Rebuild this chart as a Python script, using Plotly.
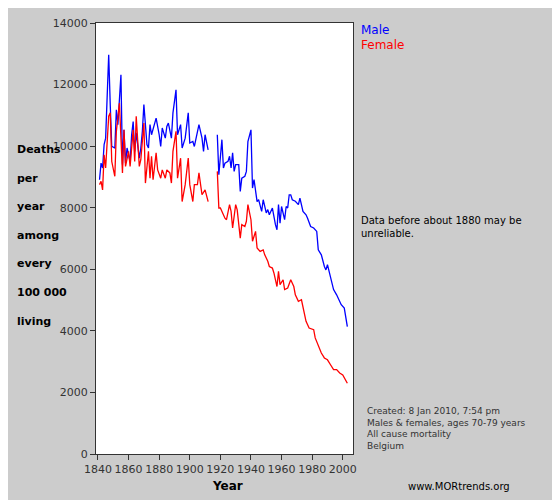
import plotly.graph_objects as go

male_years = [1841,1842,1843,1844,1845,1847,1848,1849,1851,1852,1853,1855,1856,1857,1858,1859,1861,1862,1863,1864,1865,1867,1868,1869,1870,1872,1873,1874,1875,1877,1878,1880,1881,1882,1884,1885,1886,1888,1889,1891,1892,1894,1895,1897,1899,1900,1902,1903,1905,1906,1908,1909,1910,1912,
              1913,
              1918,1919,1921,1922,1923,1925,1926,1927,1928,1929,1930,1932,1933,1934,1936,1937,1938,1940,1941,1942,1944,1945,1947,1948,1950,1951,1952,1954,1956,1957,1958,1959,1960,1962,1963,1964,1965,1966,1967,1969,1971,1972,1974,1976,1977,1979,1981,1983,1984,1986,1988,1989,1990,1992,1994,1996,1997,1999,2001,2003]
male_vals = [8910,9450,9290,10050,10260,12970,11350,9990,9940,11180,10700,12320,9400,10530,9450,9940,9500,10370,10800,9830,10430,9610,9940,10480,11350,10050,9940,10700,10370,10700,10910,10370,9990,10590,10260,10640,10750,10260,11080,11830,10370,10700,9940,10260,11080,10100,10150,9990,10480,10700,10260,9830,10370,9880,
             None,
             10370,9070,10210,9290,9450,9510,9670,9290,9780,9180,9400,9400,8530,8960,9020,9180,10150,10530,8640,8910,8200,8260,7880,8260,7830,7940,7770,7990,7450,7285,8100,7500,8040,7610,8040,7990,8420,8420,8260,8210,8100,8310,7880,7770,7660,7390,7340,7230,6630,6470,6090,5980,6150,5710,5340,5170,5060,4850,4740,4140]

female_years = [1841,1842,1843,1844,1845,1847,1848,1849,1851,1852,1854,1856,1857,1858,1860,1861,1863,1864,1865,1867,1868,1870,1871,1873,1874,1875,1876,1878,1879,1881,1882,1884,1885,1887,1888,1889,1891,1892,1894,1895,1897,1899,1900,1902,1903,1905,1906,1908,1910,1912,
                1913,
                1918,1919,1920,1921,1923,1924,1926,1927,1928,1930,1931,1933,1934,1936,1937,1938,1940,1941,1943,1944,1946,1948,1949,1951,1952,1954,1955,1957,1958,1959,1961,1962,1964,1966,1968,1969,1971,1973,1975,1976,1978,1981,1982,1984,1986,1988,1990,1992,1994,1996,1998,2000,2002,2003]
female_vals = [8750,8860,8580,9720,9290,10970,11080,9500,9020,10480,11400,9130,10530,9340,9830,9340,10530,9500,10970,9340,9560,10750,8800,9830,8960,9670,8910,9780,9230,8960,9230,8960,9230,9130,8800,9830,10480,8960,9610,8200,8750,9610,8750,8200,8750,8750,9130,8420,8580,8200,
               None,
               9180,7990,7990,7880,7660,7610,8100,7880,7340,8100,7930,7010,7450,7390,7560,8100,7610,6910,7230,6690,6580,6630,6470,6260,6090,6040,5880,5440,5930,5500,5660,5340,5390,5660,5440,5170,4960,5010,4580,4310,4090,4040,3770,3490,3280,3120,3060,2900,2740,2740,2630,2570,2410,2300]

x_ticks = [1840,1860,1880,1900,1920,1940,1960,1980,2000]
y_ticks = [0,2000,4000,6000,8000,10000,12000,14000]

FONT = "DejaVu Sans"
fig = go.Figure()
fig.add_trace(go.Scatter(x=male_years, y=male_vals, mode="lines", line=dict(color="#0000ff", width=1.3), connectgaps=False))
fig.add_trace(go.Scatter(x=female_years, y=female_vals, mode="lines", line=dict(color="#ff0000", width=1.3), connectgaps=False))

axis_common = dict(showgrid=False, zeroline=False, showline=True, linecolor="#333333", mirror=True, automargin=False,
                   ticks="outside", ticklen=5, tickcolor="#333333", tickformat="d",
                   tickfont=dict(family=FONT, size=11, color="#333333"))
fig.update_xaxes(range=[1838.7, 2006.7], tickvals=x_ticks, **axis_common)
fig.update_yaxes(range=[0, 14000], tickvals=y_ticks, **axis_common)

anns = [
    dict(x=351, y=22, text="Male", font=dict(color="#0000ff", size=12)),
    dict(x=351, y=37, text="Female", font=dict(color="#ff0000", size=12)),
    dict(x=351, y=219, text="Data before about 1880 may be<br>unreliable.", font=dict(color="#000000", size=10)),
    dict(x=7, y=227, text="<b>Deaths</b><br><br><b>per</b><br><br><b>year</b><br><br><b>among</b><br><br><b>every</b><br><br><b>100 000</b><br><br><b>living</b>", font=dict(color="#000000", size=11)),
    dict(x=357, y=420, text="Created: 8 Jan 2010, 7:54 pm<br>Males &amp; females, ages 70-79 years<br>All cause mortality<br>Belgium", font=dict(color="#333333", size=9)),
    dict(x=398, y=478, text="www.MORtrends.org", font=dict(color="#000000", size=10)),
    dict(x=202, y=478, text="<b>Year</b>", font=dict(color="#000000", size=12)),
]
L, R, T, B = 88, 215, 15, 54
pw, ph = 560 - L - R, 500 - T - B
for a in anns:
    a["font"]["family"] = FONT
    fig.add_annotation(x=(a["x"] - L) / pw, y=(500 - B - a["y"]) / ph, xref="paper", yref="paper", text=a["text"],
                       showarrow=False, xanchor="left", yanchor="middle", align="left", font=a["font"])

fig.update_layout(width=560, height=500, margin=dict(l=L, r=R, t=T, b=B, autoexpand=False), showlegend=False,
                  paper_bgcolor="#cccccc", plot_bgcolor="#ffffff")
fig.write_html("out.html")
